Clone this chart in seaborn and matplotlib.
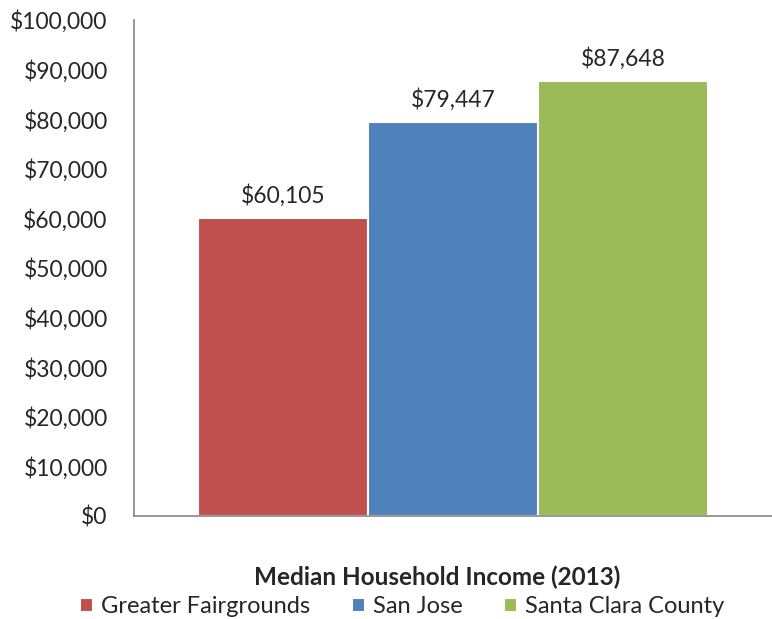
import pandas as pd
import seaborn as sns
import matplotlib.pyplot as plt
from matplotlib.ticker import FuncFormatter

# Data
category = ['Median Household Income (2013)']
regions = ['Greater Fairgrounds', 'San Jose', 'Santa Clara County']
income = [60105, 79447, 87648]
colors = ['#C0504D', '#4F81BD', '#9BBB59']

df = pd.DataFrame({'Metric': category * len(regions),
                   'Region': regions,
                   'Income': income})

sns.set_style('white')
plt.rcParams['font.family'] = ['Lato', 'DejaVu Sans']

fig = plt.figure(figsize=(7.72, 6.19), dpi=100)
ax = fig.add_axes([0.1736, 0.1664, 0.8264, 0.8013])

sns.barplot(data=df, x='Metric', y='Income', hue='Region',
            palette=colors, width=0.8, edgecolor='white', linewidth=1.5,
            saturation=1, ax=ax)

# Value labels
for container in ax.containers:
    ax.bar_label(container, labels=['${:,.0f}'.format(v) for v in container.datavalues],
                 padding=8, fontsize=16.5)

ax.set_ylim(0, 100000)
ax.set_yticks(range(0, 100001, 10000))
ax.yaxis.set_major_formatter(FuncFormatter(lambda v, p: '${:,.0f}'.format(v)))
ax.tick_params(axis='y', labelsize=16.5, length=0, pad=19)
ax.tick_params(axis='x', length=0, labelbottom=False)
ax.set_ylabel('')
# category name sits under the bars, a bit left of centre like the original
ax.set_xlabel(category[0], fontsize=17.5, fontweight='bold', va='center')
ax.xaxis.set_label_coords(0.475, -0.123)

for side in ['top', 'right']:
    ax.spines[side].set_visible(False)
for side in ['left', 'bottom']:
    ax.spines[side].set_color('#868686')
    ax.spines[side].set_linewidth(1.2)

ax.legend(loc='center', bbox_to_anchor=(0.521, 0.02), bbox_transform=fig.transFigure,
          ncol=3, frameon=False, fontsize=17, handlelength=0.55, handleheight=0.55,
          handletextpad=0.35, columnspacing=1.75, borderaxespad=0, borderpad=0)

plt.savefig('out.png', dpi=100)
